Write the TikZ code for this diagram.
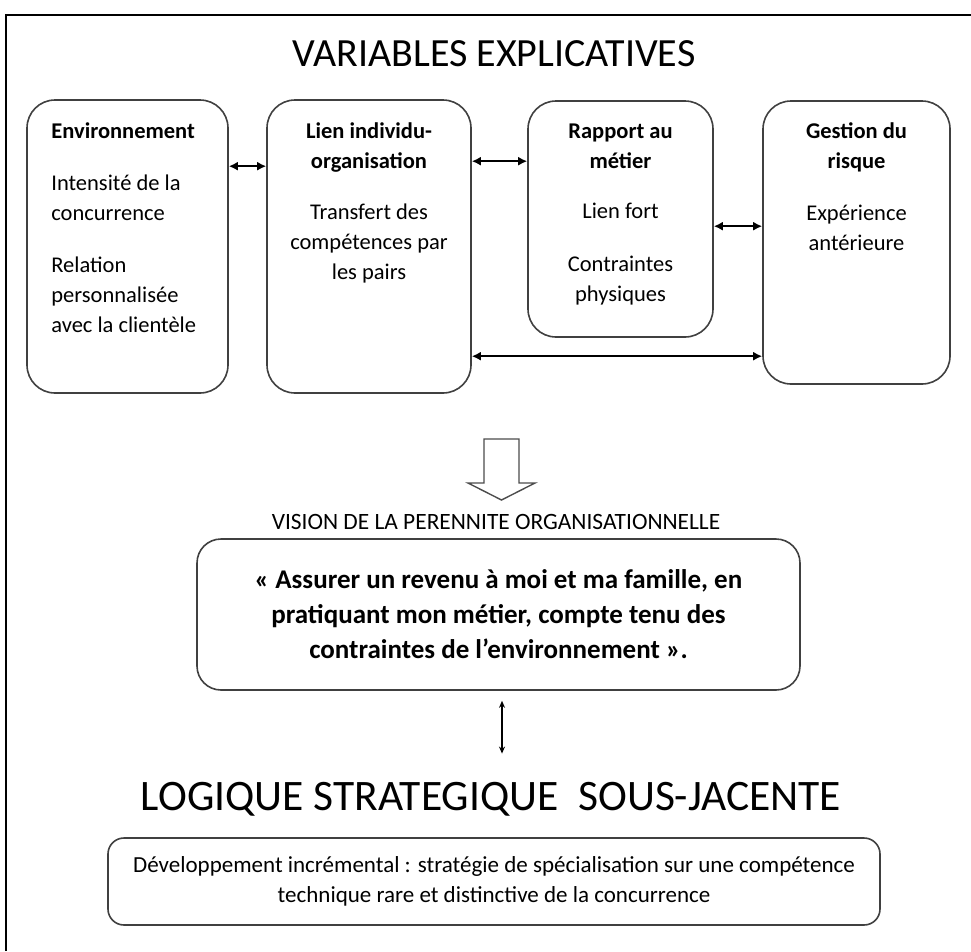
\documentclass[tikz,border=0pt]{standalone}
\usepackage{fontspec}
\setmainfont{Carlito}
\usepackage{tikz}
\usetikzlibrary{positioning,calc,arrows.meta}

\begin{document}
\begin{tikzpicture}[
    x=1pt, y=-1pt,
    box/.style={rectangle, draw=black!75, line width=1.6pt, rounded corners=28pt, inner sep=0pt},
    boxtext/.style={inner sep=0pt, font=\fontsize{22.5}{30}\selectfont},
    link/.style={{Latex[length=9pt,width=9pt]}-{Latex[length=9pt,width=9pt]}, line width=1.8pt},
    vlink/.style={{Stealth[length=7pt,width=6pt]}-{Stealth[length=7pt,width=6pt]}, line width=1.2pt},
    frame/.style={line width=2.4pt}
]
    \useasboundingbox (0,0) rectangle (971,951);
    \draw[frame] (6,951) -- (6,15) -- (971,15);

    % Title
    \node[font=\fontsize{40}{44}\selectfont] (vartitle) at (494,54) {VARIABLES EXPLICATIVES};

    % Environnement
    \node[box, minimum width=201pt, minimum height=293pt] (env) at (127.5,246.5) {};
    \node[boxtext, align=left, below right=18pt and 25pt of env.north west] (envtext) {
        \strut\textbf{Environnement}\\[22pt]
        Intensité de la\\
        concurrence\\[22pt]
        Relation\\
        personnalisée\\
        avec la clientèle
    };

    % Lien individu-organisation
    \node[box, minimum width=204pt, minimum height=293pt] (lien) at (369,246.5) {};
    \node[boxtext, align=center, below=18pt of lien.north] (lientext) {
        \strut\textbf{Lien individu-}\\
        \textbf{organisation}\\[21pt]
        Transfert des\\
        compétences par\\
        les pairs
    };

    % Rapport au metier
    \node[box, minimum width=185pt, minimum height=236pt] (rapport) at (620.5,219) {};
    \node[boxtext, align=center, below=17pt of rapport.north] (rapporttext) {
        \strut\textbf{Rapport au}\\
        \textbf{métier}\\[20pt]
        Lien fort\\[23pt]
        Contraintes\\
        physiques
    };

    % Gestion du risque
    \node[box, minimum width=187pt, minimum height=283pt] (gestion) at (856.5,242.5) {};
    \node[boxtext, align=center, below=17pt of gestion.north] (gestiontext) {
        \strut\textbf{Gestion du}\\
        \textbf{risque}\\[22pt]
        Expérience\\
        antérieure
    };

    % links between the boxes
    \draw[link] ($(env.north east)+(0,67)$) -- ($(lien.north west)+(0,67)$);
    \draw[link] ($(lien.north east)+(0,62)$) -- ($(rapport.north west)+(0,61)$);
    \draw[link] ($(rapport.north east)+(0,126)$) -- ($(gestion.north west)+(0,126)$);
    \draw[link] ($(lien.north east)+(0,257)$) -- ($(gestion.north west)+(0,256)$);

    % Block arrow
    \draw[line width=1.4pt, draw=black!70] (484,439) -- (484,483) -- (468,483) -- (501.5,500)
        -- (535,483) -- (519,483) -- (519,439) -- cycle;

    % Vision
    \node[font=\fontsize{23.4}{26}\selectfont] (vistitle) at (496,522) {VISION DE LA PERENNITE ORGANISATIONNELLE};
    \node[box, rounded corners=24pt, minimum width=603pt, minimum height=151pt, align=center,
        font=\bfseries\fontsize{27}{35}\selectfont] (vision) at (498.5,614.5) {
        « Assurer un revenu à moi et ma famille, en\\
        pratiquant mon métier, compte tenu des\\
        contraintes de l’environnement ».
    };

    % Logique strategique
    \node[anchor=base, inner sep=0pt, font=\fontsize{43.5}{48}\selectfont] (logique) at (491,810) {LOGIQUE STRATEGIQUE\ \ SOUS-JACENTE};
    \draw[vlink] ($(vision.south)+(3.5,10)$) -- ($(vision.south |- logique.north)+(3.5,-28)$);

    \node[box, rounded corners=16pt, minimum width=772pt, minimum height=87pt, align=center,
        font=\fontsize{23}{30}\selectfont] (strat) at (494,881.5) {
        Développement incrémental : stratégie de spécialisation sur une compétence\\
        technique rare et distinctive de la concurrence
    };
\end{tikzpicture}
\end{document}
